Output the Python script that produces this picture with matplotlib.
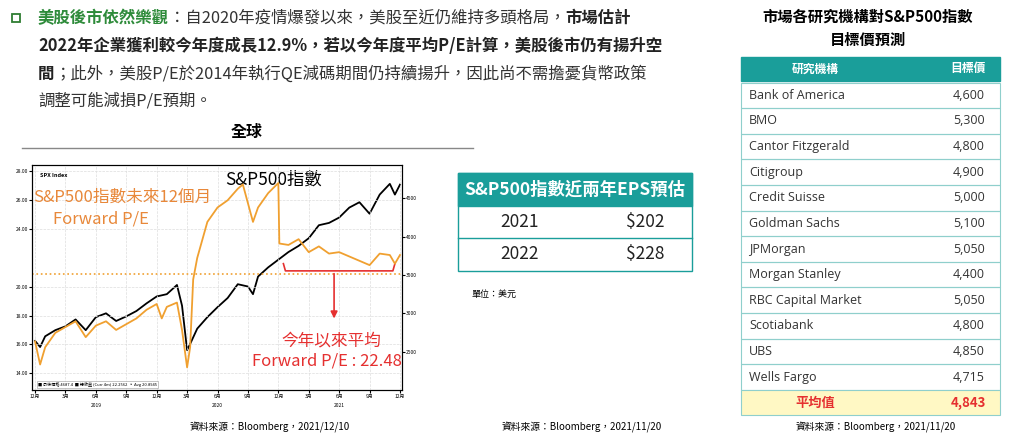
import matplotlib
matplotlib.use("Agg")
import matplotlib.pyplot as plt
from matplotlib.patches import Rectangle

plt.rcParams["font.family"] = ["Noto Sans CJK TC", "DejaVu Sans"]

# ---- data ----
pe_month = [0, 0.5, 1, 2, 3, 4, 5, 6, 7, 8, 9, 10, 11, 12, 12.5, 13, 14, 14.5, 15, 15.3,
            15.6, 16, 17, 18, 19, 20, 20.5, 21, 21.5, 22, 23, 24, 24.1, 25, 26, 27, 28,
            29, 30, 31, 32, 33, 34, 35, 35.5, 36]
pe_value = [16.2, 14.6, 15.8, 16.8, 17.2, 17.6, 16.5, 17.3, 17.6, 17.0, 17.4, 17.8, 18.4,
            18.8, 17.8, 18.6, 18.9, 17.0, 14.4, 15.8, 20.5, 22.0, 24.5, 25.5, 26.0, 26.8,
            27.1, 25.8, 24.5, 25.5, 26.5, 27.2, 23.0, 22.9, 23.3, 22.4, 22.8, 22.3, 22.4,
            22.1, 21.8, 21.5, 22.3, 22.2, 21.6, 22.2]
spx_month = [0, 0.5, 1, 2, 3, 4, 5, 6, 7, 8, 9, 10, 11, 12, 13, 14, 14.5, 15, 15.3, 16, 17,
             18, 19, 20, 21, 21.5, 22, 23, 24, 25, 26, 27, 28, 29, 30, 31, 32, 33, 34, 35,
             35.5, 36]
spx_value = [2640, 2560, 2700, 2780, 2830, 2920, 2780, 2950, 3000, 2900, 2960, 3030, 3130,
             3220, 3250, 3370, 3100, 2520, 2600, 2800, 2950, 3080, 3200, 3380, 3350, 3250,
             3480, 3600, 3700, 3800, 3880, 3980, 4150, 4180, 4250, 4380, 4450, 4300, 4550,
             4690, 4550, 4680]
pe_avg_line = 20.89
left_ticks = [14, 16, 18, 20, 24, 26, 28]
right_ticks = [2500, 3000, 3500, 4000, 4500]
x_ticks = [0, 3, 6, 9, 12, 15, 18, 21, 24, 27, 30, 33, 36]
x_ticklabels = ["12月", "3月", "6月", "9月"] * 3 + ["12月"]

eps_years = ["2021", "2022"]
eps_values = ["$202", "$228"]

firms = ["Bank of America", "BMO", "Cantor Fitzgerald", "Citigroup", "Credit Suisse",
         "Goldman Sachs", "JPMorgan", "Morgan Stanley", "RBC Capital Market", "Scotiabank",
         "UBS", "Wells Fargo"]
targets = ["4,600", "5,300", "4,800", "4,900", "5,000", "5,100", "5,050", "4,400", "5,050",
           "4,800", "4,850", "4,715"]
avg_target = "4,843"

TEAL = "#1a9e9a"
ORANGE = "#f0a030"
W, H = 1024, 437
FS = 11.8

fig = plt.figure(figsize=(W / 100, H / 100), dpi=100)
bg = fig.add_axes([0, 0, 1, 1])
bg.set_xlim(0, W)
bg.set_ylim(H, 0)
bg.axis("off")
renderer = fig.canvas.get_renderer()


def chain(x, y, pieces):
    # place text pieces one after another on a line
    for s, color, weight in pieces:
        t = bg.text(x, y, s, color=color, fontsize=FS, weight=weight, va="center")
        ext = t.get_window_extent(renderer)
        x += ext.width


# ---- paragraph text ----
bg.add_patch(Rectangle((12, 14), 8, 8, fill=False, ec="#2e7d32", lw=1.3))
chain(38, 18, [("美股後市依然樂觀", "#2e8b3a", "bold"),
               ("：自2020年疫情爆發以來，美股至近仍維持多頭格局，", "#333", "normal"),
               ("市場估計", "#222", "bold")])
chain(38, 46, [("2022年企業獲利較今年度成長12.9%，若以今年度平均P/E計算，美股後市仍有揚升空", "#222", "bold")])
chain(38, 74, [("間", "#222", "bold"),
               ("；此外，美股P/E於2014年執行QE減碼期間仍持續揚升，因此尚不需擔憂貨幣政策", "#333", "normal")])
chain(38, 101, [("調整可能減損P/E預期。", "#333", "normal")])
bg.text(247, 132, "全球", fontsize=11.5, weight="bold", ha="center", va="center")
bg.plot([22, 473], [148, 148], color="#888", lw=1)

# ---- chart ----
ax = fig.add_axes([32 / W, 1 - 390 / H, 370 / W, 225 / H])
ax2 = ax.twinx()
ax.set_xlim(-0.3, 36.2)
ax.set_ylim(12.83, 28.45)
ax2.set_ylim(1999, 4936)
ax.plot(pe_month, pe_value, color=ORANGE, lw=1.3, zorder=3)
ax2.plot(spx_month, spx_value, color="black", lw=1.3)
ax.axhline(pe_avg_line, color=ORANGE, ls=":", lw=1.2)
ax.set_zorder(ax2.get_zorder() + 1)
ax.patch.set_visible(False)
ax.set_yticks(left_ticks)
ax.set_yticklabels([f"{t:.2f}" for t in left_ticks], fontsize=3.5)
ax2.set_yticks(right_ticks)
ax2.set_yticklabels([str(t) for t in right_ticks], fontsize=3.5)
ax.set_xticks(x_ticks)
ax.set_xticklabels(x_ticklabels, fontsize=3.5)
ax.tick_params(length=2, pad=1)
ax2.tick_params(length=2, pad=1)
ax.grid(True, color="#dddddd", lw=0.5, ls="--")
for yr, xm in [("2019", 6), ("2020", 18), ("2021", 30)]:
    ax.text(xm, -0.075, yr, transform=ax.get_xaxis_transform(), fontsize=3.5, ha="center")
ax.text(0.5, 27.6, "SPX Index", fontsize=4, weight="bold")
ax.text(-0.2, 25.9, "S&P500指數未來12個月", color="#e8883a", fontsize=12)
ax.text(6.5, 24.4, "Forward P/E", color="#e8883a", fontsize=12, ha="center")
ax2.text(23.5, 4680, "S&P500指數", color="black", fontsize=12.5, ha="center")
# red bracket
ax.plot([24.5, 24.7, 35.3, 35.5], [21.6, 21.1, 21.1, 21.6], color="#e53030", lw=1.2)
ax.annotate("", xy=(29.5, 17.6), xytext=(29.5, 21.1),
            arrowprops=dict(arrowstyle="-|>", color="#e53030", lw=1.2))
ax.text(29.2, 15.9, "今年以來平均", color="#e53030", fontsize=12, ha="center")
ax.text(28.8, 14.5, "Forward P/E : 22.48", color="#e53030", fontsize=12, ha="center")
ax.text(0.3, 13.1, "■ 最後價格 4687.4  ■ 總收益 (Curr 4m) 22.2562  ▫ Avg 20.8945",
        fontsize=3, bbox=dict(fc="white", ec="#999", lw=0.4, pad=1))
bg.text(270, 427, "資料來源：Bloomberg，2021/12/10", fontsize=7, ha="center", va="center")

# ---- EPS table ----
ex0, ex1 = 458, 692
bg.add_patch(Rectangle((ex0, 173), ex1 - ex0, 33, color=TEAL))
bg.text((ex0 + ex1) / 2, 190, "S&P500指數近兩年EPS預估", color="white", fontsize=12.5,
        weight="bold", ha="center", va="center")
bg.add_patch(Rectangle((ex0, 173), ex1 - ex0, 98, fill=False, ec=TEAL, lw=1))
for i, (yr, val) in enumerate(zip(eps_years, eps_values)):
    yc = 222 + i * 32
    bg.text(520, yc, yr, fontsize=12.5, ha="center", va="center", color="#222")
    bg.text(645, yc, val, fontsize=12.5, ha="center", va="center", color="#222")
bg.plot([ex0, ex1], [238, 238], color=TEAL, lw=1)
bg.text(472, 294, "單位：美元", fontsize=6.5, va="center")
bg.text(582, 427, "資料來源：Bloomberg，2021/11/20", fontsize=7, ha="center", va="center")

# ---- target table ----
tx0, tx1 = 741, 1000
bg.text(868, 17, "市場各研究機構對S&P500指數", fontsize=11, weight="bold", ha="center", va="center")
bg.text(868, 40, "目標價預測", fontsize=11, weight="bold", ha="center", va="center")
rh = 25.6
top = 57
bg.add_patch(Rectangle((tx0, top), tx1 - tx0, rh - 2, color=TEAL))
bg.text(815, top + rh / 2 - 1, "研究機構", color="white", fontsize=8.5, weight="bold",
        ha="center", va="center")
bg.text(968, top + rh / 2 - 1, "目標價", color="white", fontsize=8.5, weight="bold",
        ha="center", va="center")
for i, (f, t) in enumerate(zip(firms, targets)):
    y0 = top + rh * (i + 1)
    bg.add_patch(Rectangle((tx0, y0), tx1 - tx0, rh, fill=False, ec="#8fcfcc", lw=0.8))
    bg.text(749, y0 + rh / 2, f, fontsize=9, va="center", color="#333",
            family=["Open Sans", "DejaVu Sans"])
    bg.text(985, y0 + rh / 2, t, fontsize=9, va="center", ha="right", color="#333",
            family=["Open Sans", "DejaVu Sans"])
y0 = top + rh * 13
bg.add_patch(Rectangle((tx0, y0), tx1 - tx0, rh, fc="#fff8c4", ec="#8fcfcc", lw=0.8))
bg.text(815, y0 + rh / 2, "平均值", color="#e53030", fontsize=9.5, weight="bold",
        ha="center", va="center")
bg.text(968, y0 + rh / 2, avg_target, color="#e53030", fontsize=9.5, weight="bold",
        ha="center", va="center")
bg.text(876, 427, "資料來源：Bloomberg，2021/11/20", fontsize=7, ha="center", va="center")

fig.savefig("out.png", dpi=100)
